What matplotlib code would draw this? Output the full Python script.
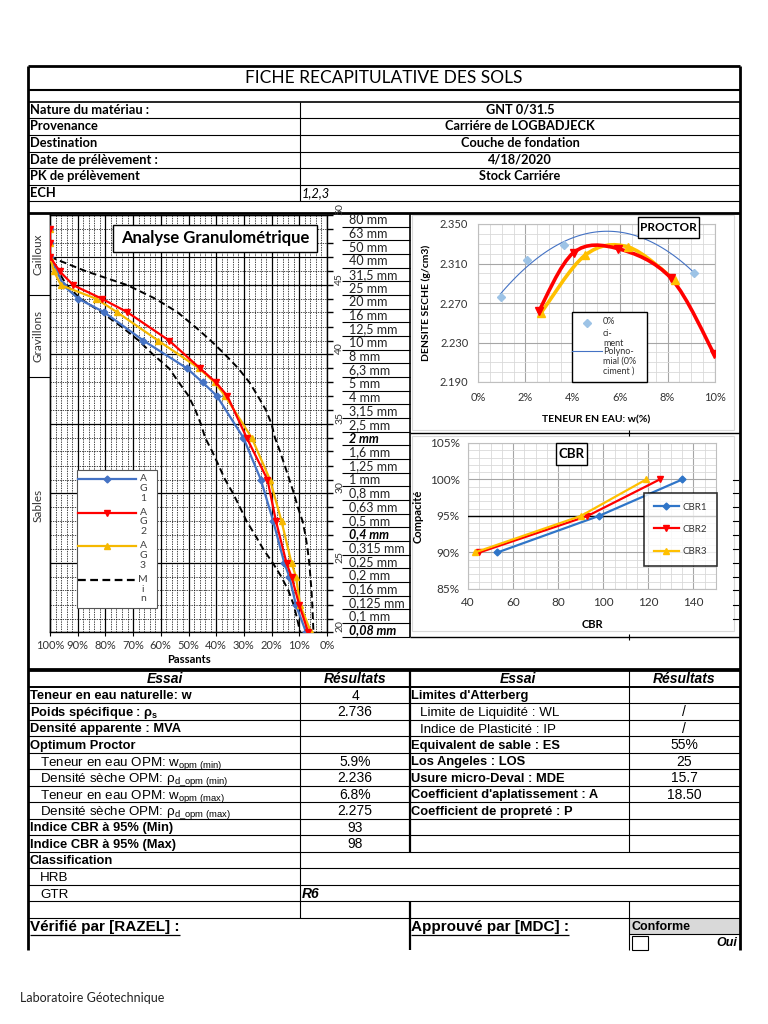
import numpy as np
import matplotlib
matplotlib.use("Agg")
import matplotlib.pyplot as plt
from matplotlib.path import Path
from matplotlib.patches import Rectangle, PathPatch
from matplotlib import transforms
from matplotlib.ticker import MultipleLocator, FixedLocator, FuncFormatter, NullFormatter

# ---- data -------------------------------------------------------------
title = "FICHE RECAPITULATIVE DES SOLS"
info_labels = ["Nature du matériau :", "Provenance", "Destination",
               "Date de prélèvement :", "PK de prélèvement", "ECH"]
info_values = ["GNT 0/31.5", "Carriére de LOGBADJECK", "Couche de fondation",
               "4/18/2020", "Stock Carriére", "1,2,3"]

# granulometry (sieve mm / passing %)
sieve_labels = ["80 mm", "63 mm", "50 mm", "40 mm", "31,5 mm", "25 mm", "20 mm", "16 mm",
                "12,5 mm", "10 mm", "8 mm", "6,3 mm", "5 mm", "4 mm", "3,15 mm", "2,5 mm",
                "2 mm", "1,6 mm", "1,25 mm", "1 mm", "0,8 mm", "0,63 mm", "0,5 mm", "0,4 mm",
                "0,315 mm", "0,25 mm", "0,2 mm", "0,16 mm", "0,125 mm", "0,1 mm", "0,08 mm"]
sieve_bold = ["2 mm", "0,4 mm", "0,08 mm"]
sieves_all = [80, 63, 50, 40, 31.5, 25, 20, 16, 12.5, 10, 8, 6.3, 5, 4, 3.15, 2.5, 2,
              1.6, 1.25, 1, 0.8, 0.63, 0.5, 0.4, 0.315, 0.25, 0.2, 0.16, 0.125, 0.1, 0.08]
module_sieves = [0.08, 0.25, 0.8, 2.5, 8, 25, 80]
module_labels = ["20", "25", "30", "35", "40", "45", "50"]

sieves_ag = [63, 50, 40, 31.5, 25, 20, 16, 10, 6.3, 5, 4, 2, 1, 0.5, 0.25, 0.2, 0.125, 0.08]
ag1 = [100, 100, 100, 97.5, 95.2, 89.8, 80.5, 66.3, 50.5, 44.9, 39.8, 30.2, 23.9, 19.4, 15.4, 13.6, 11.2, 7.6]
ag2 = [100, 100, 100, 96.5, 91.6, 81.3, 72.1, 57.0, 45.8, 40.1, 36.0, 29.0, 21.5, 18.4, 14.6, 12.8, 10.0, 6.8]
ag3 = [100, 100, 100, 98.6, 96.0, 83.4, 75.8, 61.0, 46.1, 40.6, 36.8, 27.2, 20.6, 16.4, 12.8, 11.2, 9.7, 5.8]

sieves_lim = sieves_all[3:]
lim_max = [100, 97, 94, 89, 81.5, 74, 68, 63, 57, 53.5, 50, 47.5, 45.5, 44, 41.5, 39,
           36.8, 34, 31.4, 29, 26, 23, 19.5, 16.5, 14, 12, 10.8, 9.7]
lim_min = [100, 87, 72, 62, 54, 47.5, 42, 37, 32, 28, 25, 22, 20, 18.8, 17, 15.2,
           13.6, 12, 10.5, 8.8, 7.8, 7, 6.4, 6, 5.6, 5.3, 5.1, 4.9]

# proctor (w % / dry density)
w_ref = [0.95, 2.08, 3.62, 9.13]
d_ref = [2.276, 2.3136, 2.3286, 2.3007]
w_p1 = [2.56, 4.03, 5.91, 8.15, 9.97]
d_p1 = [2.2615, 2.321, 2.325, 2.2949, 2.218]
w_p2 = [2.66, 4.52, 6.33, 8.32]
d_p2 = [2.260, 2.3184, 2.3268, 2.2929]
density_ticks = [2.19, 2.23, 2.27, 2.31, 2.35]

# CBR (index / compaction %)
cbr1 = [53, 98, 135]
cbr2 = [45, 93, 125]
cbr3 = [43, 90, 119]
compac = [90, 95, 100]

left_labels = ["Teneur en eau naturelle: w", r"Poids spécifique : $\mathbf{\rho_s}$",
               "Densité apparente : MVA", "Optimum Proctor",
               r"Teneur en eau OPM: $\mathrm{w}_{\mathrm{opm\ (min)}}$",
               r"Densité sèche OPM: $\mathrm{\rho}_{\mathrm{d\_opm\ (min)}}$",
               r"Teneur en eau OPM: $\mathrm{w}_{\mathrm{opm\ (max)}}$",
               r"Densité sèche OPM: $\mathrm{\rho}_{\mathrm{d\_opm\ (max)}}$",
               "Indice CBR à 95% (Min)", "Indice CBR à 95% (Max)",
               "Classification", "HRB", "GTR", ""]
left_results = ["4", "2.736", "", "", "5.9%", "2.236", "6.8%", "2.275", "93", "98", "", "", "", ""]
left_bold = [1, 1, 1, 1, 0, 0, 0, 0, 1, 1, 1, 0, 0, 0]
right_labels = ["Limites d'Atterberg", "Limite de Liquidité : WL", "Indice de Plasticité : IP",
                "Equivalent de sable : ES", "Los Angeles : LOS", "Usure micro-Deval : MDE",
                "Coefficient d'aplatissement : A", "Coefficient de propreté : P", "", ""]
right_results = ["", "/", "/", "55%", "25", "15.7", "18.50", "", "", ""]
right_bold = [1, 0, 0, 1, 1, 1, 1, 1, 0, 0]

BLUE = "#4472C4"
RED = "#FF0000"
YEL = "#F5B800"
CAL = "Lato"
ARL = "Liberation Sans"

plt.rcParams['mathtext.fontset'] = 'custom'
plt.rcParams['mathtext.rm'] = 'Liberation Sans'
plt.rcParams['mathtext.it'] = 'Liberation Sans:italic'
plt.rcParams['mathtext.bf'] = 'Liberation Sans:bold'

W, H = 768, 1024
fig = plt.figure(figsize=(W / 100, H / 100), dpi=100)
fig.patch.set_facecolor("white")


def px_axes(x0, y0, x1, y1):
    return fig.add_axes([x0 / W, 1 - y1 / H, (x1 - x0) / W, (y1 - y0) / H])


def pix_ax(a):
    a.set_xlim(0, W)
    a.set_ylim(H, 0)
    a.axis("off")
    a.patch.set_alpha(0)


bg = px_axes(0, 0, W, H)
pix_ax(bg)


def hl(y, x0, x1, lw=0.8, ax=bg, c="black"):
    ax.plot([x0, x1], [y, y], color=c, lw=lw, solid_capstyle="butt")


def vl(x, y0, y1, lw=0.8, ax=bg, c="black"):
    ax.plot([x, x], [y0, y1], color=c, lw=lw, solid_capstyle="butt")


def cell_text(x, yc, s, size, **kw):
    # baseline placed so the capitals sit centred in the row
    return bg.text(x, yc + 0.36 * size * 100 / 72, s, family=ARL, fontsize=size,
                   va="baseline", **kw)


# ---- header block ------------------------------------------------------
bg.text(384, 78, title, family=CAL, fontsize=12.5, ha="center", va="center")
row_y = [101.5, 118, 135, 151.5, 168, 185, 201]
hl(66, 28, 740, 2)
hl(89.5, 28, 740, 1.5)
for i, y in enumerate(row_y):
    hl(y, 28, 740, 1.2 if i == 0 else 0.8)
hl(213, 28, 740, 2)
vl(300, row_y[0], row_y[-1])
vl(28, 66, 950, 2)
vl(740, 66, 950, 2)
for i in range(len(info_labels)):
    yc = (row_y[i] + row_y[i + 1]) / 2
    bg.text(30, yc, info_labels[i], family=CAL, fontsize=9.3, weight="bold", va="center")
    if info_labels[i] == "ECH":
        bg.text(302, yc, info_values[i], family=CAL, fontsize=9.3, style="italic", va="center")
    else:
        bg.text(520, yc, info_values[i], family=CAL, fontsize=9.2, weight="bold",
                ha="center", va="center")

# ---- granulometry ------------------------------------------------------
gax = px_axes(50, 215, 327, 632)
gax.set_xlim(100, 0)
gax.set_yscale("log")
gax.set_ylim(0.08, 80)
gax.xaxis.set_major_locator(MultipleLocator(10))
gax.xaxis.set_minor_locator(MultipleLocator(2))
gax.xaxis.set_major_formatter(FuncFormatter(lambda v, p: f"{v:.0f}%"))
gax.yaxis.set_major_locator(FixedLocator(module_sieves))
gax.yaxis.set_minor_locator(FixedLocator(sieves_all))
gax.yaxis.set_major_formatter(FuncFormatter(
    lambda v, p: module_labels[int(np.argmin(np.abs(np.log(np.array(module_sieves) / v))))]))
gax.yaxis.set_minor_formatter(NullFormatter())
gax.grid(which="major", color="black", lw=0.9)
gax.grid(which="minor", color="black", lw=0.5, ls=(0, (2, 1.5)))
gax.axhline(40, color="black", lw=0.8)
gax.tick_params(axis="y", which="both", left=False, right=True, labelleft=False,
                labelright=True, direction="out", length=4, width=1, pad=2,
                labelsize=7.5, labelrotation=90)
gax.tick_params(axis="x", which="major", direction="out", length=3, labelsize=8,
                labelcolor="#333333", pad=3)
gax.tick_params(axis="x", which="minor", length=0)
for lab in gax.get_yticklabels():
    lab.set_family(CAL)
    lab.set_va("bottom")
    lab.set_color("#333333")
for lab in gax.get_xticklabels():
    lab.set_family(CAL)
for s in gax.spines.values():
    s.set_color("black")
    s.set_linewidth(1)
gax.set_xlabel("Passants", family=CAL, fontsize=8, weight="bold", labelpad=2)

gax.plot(lim_max, sieves_lim, color="black", lw=1.4, ls=(0, (3.5, 2)), zorder=3)
gax.plot(lim_min, sieves_lim, color="black", lw=1.4, ls=(0, (3.5, 2)), zorder=3)
gax.plot(ag1, sieves_ag, color=BLUE, lw=1.6, marker="D", ms=3.5, zorder=4)
gax.plot(ag3, sieves_ag, color=YEL, lw=1.6, marker="^", ms=4.5, zorder=4)
gax.plot(ag2, sieves_ag, color=RED, lw=1.6, marker="v", ms=4.5, zorder=4)

# left column labels
vl(50, 213, 632, 1)
hl(295, 28, 50)
hl(377, 28, 50)
for txt, yc in [("Cailloux", 254), ("Gravillons", 336), ("Sables", 505)]:
    bg.text(38, yc, txt, family=CAL, fontsize=8.5, rotation=90, ha="center",
            va="center", color="#333333")

# sieve label cells
cell_h = (636.5 - 213) / len(sieve_labels)
for i, lab in enumerate(sieve_labels):
    y0 = 213 + i * cell_h
    hl(y0 + cell_h, 342, 410, 0.8)
    bold = lab in sieve_bold
    bg.text(349, y0 + cell_h / 2 + 0.5, lab, family=CAL, fontsize=9, va="center",
            weight="bold" if bold else "normal", style="italic" if bold else "normal",
            color="black" if bold else "#222222")
vl(410, 213, 637, 1.2)

# ---- proctor -----------------------------------------------------------
bg.add_patch(Rectangle((412, 215), 322, 215, fill=False, ec="#d9d9d9", lw=0.8))
pax = px_axes(478, 224, 715, 382)
pax.set_xlim(0, 10)
pax.set_ylim(2.19, 2.35)
pax.xaxis.set_major_locator(MultipleLocator(2))
pax.xaxis.set_minor_locator(MultipleLocator(0.5))
pax.yaxis.set_major_locator(FixedLocator(density_ticks))
pax.yaxis.set_minor_locator(MultipleLocator(0.01))
pax.xaxis.set_major_formatter(FuncFormatter(lambda v, p: f"{v:.0f}%"))
pax.yaxis.set_major_formatter(FuncFormatter(lambda v, p: f"{v:.3f}"))
pax.grid(which="major", color="#a6a6a6", lw=0.8)
pax.grid(which="minor", color="#d9d9d9", lw=0.6)
pax.set_axisbelow(True)
pax.tick_params(which="both", length=0, labelsize=8, labelcolor="#333333", pad=7)
for lab in pax.get_xticklabels() + pax.get_yticklabels():
    lab.set_family(CAL)
for s in pax.spines.values():
    s.set_color("#bfbfbf")
    s.set_linewidth(0.8)
pax.set_xlabel("TENEUR EN EAU: w(%)", family=CAL, fontsize=7.5, weight="bold", labelpad=9)
pax.set_ylabel("DENSITE SECHE (g/cm3)", family=CAL, fontsize=7.5, weight="bold", labelpad=6)

coef = np.polyfit(w_ref, d_ref, 2)
wt = np.linspace(min(w_ref), max(w_ref), 100)
pax.plot(wt, np.polyval(coef, wt), color=BLUE, lw=0.8, zorder=3)
pax.plot(w_ref, d_ref, ls="none", marker="D", ms=4, color="#9DC3E6", zorder=4)


def smooth_patch(xs, ys, color, lw):
    pts = np.column_stack([xs, ys])
    ext = np.vstack([pts[0], pts, pts[-1]])
    verts = [pts[0]]
    codes = [Path.MOVETO]
    for i in range(len(pts) - 1):
        p0, p1, p2, p3 = ext[i], ext[i + 1], ext[i + 2], ext[i + 3]
        verts += [p1 + (p2 - p0) / 6, p2 - (p3 - p1) / 6, p2]
        codes += [Path.CURVE4] * 3
    return PathPatch(Path(verts, codes), fill=False, ec=color, lw=lw,
                     capstyle="round", joinstyle="round", zorder=4)


pax.add_patch(smooth_patch(w_p2, d_p2, "#FFC000", 2.6))
pax.plot(w_p2, d_p2, ls="none", marker="^", ms=5.5, color="#FFC000", zorder=5)
pax.add_patch(smooth_patch(w_p1, d_p1, RED, 2.6))
pax.plot(w_p1, d_p1, ls="none", marker="v", ms=5.5, color=RED, zorder=5)

# ---- CBR ---------------------------------------------------------------
bg.add_patch(Rectangle((412, 436), 322, 195, fill=False, ec="#d9d9d9", lw=0.8))
cax = px_axes(468, 443, 716, 589)
cax.set_xlim(40, 150)
cax.set_ylim(85, 105)
cax.xaxis.set_major_locator(FixedLocator([40, 60, 80, 100, 120, 140]))
cax.xaxis.set_minor_locator(MultipleLocator(5))
cax.yaxis.set_major_locator(MultipleLocator(5))
cax.yaxis.set_minor_locator(MultipleLocator(1))
cax.yaxis.set_major_formatter(FuncFormatter(lambda v, p: f"{v:.0f}%"))
cax.grid(which="major", color="#a6a6a6", lw=0.8)
cax.grid(which="minor", color="#d9d9d9", lw=0.6)
cax.set_axisbelow(True)
cax.tick_params(which="both", length=0, labelsize=8.5, labelcolor="#333333", pad=6)
for lab in cax.get_xticklabels() + cax.get_yticklabels():
    lab.set_family(CAL)
for s in cax.spines.values():
    s.set_color("#bfbfbf")
    s.set_linewidth(0.8)
cax.set_xlabel("CBR", family=CAL, fontsize=8, weight="bold", labelpad=8)
cax.set_ylabel("Compacité", family=CAL, fontsize=8, weight="bold", labelpad=4)
cax.axhline(95, color="black", lw=1, zorder=3)
cax.plot(cbr1, compac, color="#2F75C8", lw=1.6, marker="D", ms=3.5, label="CBR1", zorder=4)
cax.plot(cbr2, compac, color=RED, lw=1.6, marker="v", ms=5, label="CBR2", zorder=4)
cax.plot(cbr3, compac, color="#FFC000", lw=1.6, marker="^", ms=5, label="CBR3", zorder=4)
leg = cax.legend(loc="upper left", bbox_to_anchor=(644 / W, 1 - 493 / H),
                 bbox_transform=fig.transFigure, frameon=True, fancybox=False,
                 prop={"family": CAL, "size": 7}, handlelength=2.6, labelspacing=1.35,
                 borderpad=1.0, handletextpad=0.4, borderaxespad=0)
leg.get_frame().set_edgecolor("black")
leg.get_frame().set_linewidth(1.2)
for t in leg.get_texts():
    t.set_color("#333333")

# separators in right panel
hl(433, 410, 740, 1)
hl(637, 410, 740, 1)
vl(629, 430, 436)
vl(629, 634, 640)
tr = transforms.blended_transform_factory(bg.transData, gax.transData)
for s in sieves_all[19:30]:
    bg.plot([733, 738], [s, s], color="black", lw=0.8, transform=tr)
hl(669, 28, 740, 2)

# ---- overlays ----------------------------------------------------------
fg = px_axes(0, 0, W, H)
pix_ax(fg)
fg.add_patch(Rectangle((113, 225), 204, 27, fc="white", ec="black", lw=1))
fg.text(215, 238.5, "Analyse Granulométrique", family=CAL, fontsize=12, weight="bold",
        ha="center", va="center")
fg.add_patch(Rectangle((638, 217), 61, 21, fc="white", ec="black", lw=1))
fg.text(668.5, 227.5, "PROCTOR", family=CAL, fontsize=8.5, weight="bold",
        ha="center", va="center")
fg.add_patch(Rectangle((556, 443), 31, 22, fc="white", ec="black", lw=1))
fg.text(571.5, 454, "CBR", family=CAL, fontsize=9.5, weight="bold", ha="center", va="center")

# proctor legend
fg.add_patch(Rectangle((572, 312), 75, 70, fc="white", ec="black", lw=1))
fg.plot([587], [323], marker="D", ms=4, color="#9DC3E6", ls="none")
fg.plot([572, 602], [351, 351], color=BLUE, lw=0.8)
for txt, yy in [("0%", 322), ("ci-", 333), ("ment", 343), ("Polyno-", 351),
                ("mial (0%", 361), ("ciment )", 371)]:
    fg.text(603, yy, txt, family=CAL, fontsize=6.5, va="center", color="#333333")

# granulometry legend
fg.add_patch(Rectangle((77, 470), 80, 138, fc="white", ec="#555555", lw=0.8))
leg_items = [(BLUE, "D", 3.5, "-", "AG1"), (RED, "v", 4.5, "-", "AG2"),
             (YEL, "^", 4.5, "-", "AG3"), ("black", "", 0, (0, (3.5, 2)), "Min")]
for k, (col, mk, ms, ls, name) in enumerate(leg_items):
    yy = 479 + k * 33.6
    fg.plot([78, 136], [yy, yy], color=col, lw=1.6, ls=ls)
    if mk:
        fg.plot([107], [yy], color=col, marker=mk, ms=ms)
    for j, ch in enumerate(name):
        fg.text(143, yy - 0.5 + j * 9.8, ch, family=CAL, fontsize=7.5, ha="center",
                va="center", color="#404040")

# ---- results table -----------------------------------------------------
y0, rh = 670, 16.5
hl(y0, 28, 740, 2)
hl(y0 + rh, 28, 740, 1.4)
for k in range(2, 16):
    hl(y0 + k * rh, 28, 740, 0.8)
vl(300, y0, y0 + 15 * rh)
vl(410, y0, y0 + 11 * rh, 1.6)
vl(410, y0 + 14 * rh, 950, 1.6)
vl(629, y0, y0 + 11 * rh)
vl(629, y0 + 14 * rh, 950)

hdr_y = y0 + rh / 2
for xc, txt in [(165, "Essai"), (355, "Résultats"), (518, "Essai"), (684, "Résultats")]:
    cell_text(xc, hdr_y, txt, 10, weight="bold", style="italic", ha="center")

for i, lab in enumerate(left_labels):
    yc = y0 + (i + 1.5) * rh
    if lab:
        cell_text(30 if left_bold[i] else 40, yc, lab, 9.3 if left_bold[i] else 9.6,
                  weight="bold" if left_bold[i] else "normal")
    if left_results[i]:
        cell_text(355, yc, left_results[i], 10, ha="center")
cell_text(302, y0 + 13.5 * rh, "R6", 10, weight="bold", style="italic")

for i, lab in enumerate(right_labels):
    yc = y0 + (i + 1.5) * rh
    if lab:
        cell_text(411 if right_bold[i] else 420, yc, lab, 9.3 if right_bold[i] else 9.6,
                  weight="bold" if right_bold[i] else "normal")
    if right_results[i]:
        cell_text(684, yc, right_results[i], 10, ha="center")

ys = y0 + 15 * rh
bg.add_patch(Rectangle((629, ys), 111, 16.5, fc="#d9d9d9", ec="none"))
hl(ys + 16.5, 629, 740, 0.8)
cell_text(631, ys + 8.5, "Conforme", 9, weight="bold")
bg.add_patch(Rectangle((632, 936), 16, 14, fc="white", ec="black", lw=0.8))
cell_text(737, 942, "Oui", 9, weight="bold", style="italic", ha="right")
t1 = cell_text(30, ys + 8.5, "Vérifié par [RAZEL] :", 11, weight="bold")
t2 = cell_text(411, ys + 8.5, "Approuvé par [MDC] :", 11, weight="bold")
fig.canvas.draw()
inv = bg.transData.inverted()
for t in (t1, t2):
    bb = t.get_window_extent()
    (xa, ya), (xb, yb) = inv.transform([[bb.x0, bb.y0], [bb.x1, bb.y1]])
    hl(ya + 0.5, xa, xb, 0.9)

bg.text(20, 998, "Laboratoire Géotechnique", family=CAL, fontsize=9, va="center",
        color="#222222")

fig.savefig("out.png", dpi=100)
